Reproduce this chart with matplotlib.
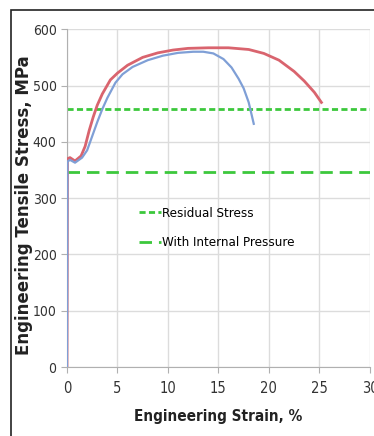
import matplotlib.pyplot as plt
from matplotlib.patches import Rectangle

# data
red_strain = [0, 0.05, 0.3, 0.8, 1.4, 1.8, 2.2, 2.6, 3.0, 3.5, 4.3, 5.0, 6.0, 7.5, 9.0,
              10.5, 12.0, 14.0, 16.0, 18.0, 19.5, 21.0, 22.5, 23.5, 24.5, 25.2]
red_stress = [0, 370, 372, 366, 375, 392, 420, 444, 465, 485, 510, 522, 536, 550, 558,
              563, 566, 567, 567, 564, 557, 545, 525, 508, 488, 470]

blue_strain = [0, 0.05, 0.3, 0.8, 1.5, 2.0, 2.5, 3.0, 3.5, 4.0, 4.8, 5.5, 6.5, 8.0, 9.5,
               11.0, 12.5, 13.5, 14.5, 15.5, 16.3, 17.0, 17.5, 18.0, 18.5]
blue_stress = [0, 365, 368, 363, 372, 385, 410, 435, 458, 478, 505, 520, 533, 545, 553,
               558, 560, 560, 557, 547, 532, 512, 495, 470, 432]

residual_stress = 458
internal_pressure = 347

xticks = [0, 5, 10, 15, 20, 25, 30]
yticks = [0, 100, 200, 300, 400, 500, 600]

cond = dict(family='DejaVu Sans', stretch='condensed')

fig = plt.figure(figsize=(3.74, 4.36), dpi=100)
ax = fig.add_axes([0.179, 0.158, 0.81, 0.775])

ax.plot(red_strain, red_stress, color='#d9646e', lw=2.0, zorder=3)
ax.plot(blue_strain, blue_stress, color='#7f9fd6', lw=1.6, zorder=3)

ax.axhline(residual_stress, color='#3cc83c', lw=2.0, ls=(0, (2.2, 1.2)),
           label='Residual Stress', zorder=2)
ax.axhline(internal_pressure, color='#3cc83c', lw=2.0, ls=(0, (4.5, 2.5)),
           label='With Internal Pressure', zorder=2)

ax.set_xlim(0, 30)
ax.set_ylim(0, 600)
ax.set_xticks(xticks)
ax.set_yticks(yticks)
ax.grid(True, color='#dcdcdc', lw=1.0)
ax.set_axisbelow(True)
for s in ['top', 'right']:
    ax.spines[s].set_visible(False)
for s in ['left', 'bottom']:
    ax.spines[s].set_color('#b0b0b0')
ax.tick_params(colors='#b0b0b0', length=4, labelcolor='#333333', labelsize=10)
ax.tick_params(axis='x', pad=6, labelsize=10.5)
for lab in ax.get_xticklabels() + ax.get_yticklabels():
    lab.set_fontfamily('DejaVu Sans')
    lab.set_fontstretch('condensed')

ax.set_xlabel('Engineering Strain, %', fontsize=11, fontweight='bold',
              color='#222222', labelpad=9, **cond)
ax.set_ylabel('Engineering Tensile Stress, MPa', fontsize=12, fontweight='bold',
              family='DejaVu Sans', color='#222222')
ax.yaxis.set_label_coords(-0.112, 0.48)

leg = ax.legend(loc='upper left', bbox_to_anchor=(0.2, 0.51), frameon=False,
                handlelength=1.6, handletextpad=0.15, labelspacing=1.25,
                prop={'family': 'DejaVu Sans', 'stretch': 'condensed', 'size': 9.5})

# outer frame of the figure
fig.patches.append(Rectangle((11 / 374, -0.1), 1.2, (426 / 436) + 0.1,
                             transform=fig.transFigure, fill=False,
                             edgecolor='#222222', lw=1.2))

fig.savefig('out.png', dpi=100)
